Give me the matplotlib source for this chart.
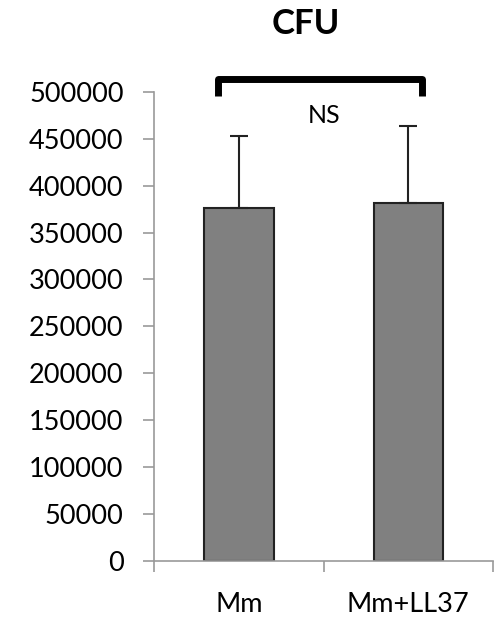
import matplotlib
matplotlib.use("Agg")
import matplotlib.pyplot as plt

# data
groups = ["Mm", "Mm+LL37"]
cfu = [376000, 382000]
err = [77000, 82000]
yticks = list(range(0, 500001, 50000))
sig_label = "NS"

plt.rcParams['font.family'] = ['Lato', 'DejaVu Sans']

fig = plt.figure(figsize=(4.99, 6.2), dpi=100)
ax = fig.add_axes([0.309, 0.095, 0.679, 0.757])

x = [0, 1]
ax.bar(x, cfu, width=0.41, color="#808080", edgecolor="#222222", linewidth=1.5, zorder=2)
ax.errorbar(x, cfu, yerr=[[0, 0], err], fmt="none", ecolor="#222222",
            elinewidth=1.5, capsize=6.5, capthick=1.5, zorder=3)

ax.set_xlim(-0.5, 1.5)
ax.set_ylim(0, 500000)
ax.set_yticks(yticks)
ax.set_yticklabels([str(v) for v in yticks], fontsize=19.5)
ax.set_xticks(x)
ax.set_xticklabels(groups, fontsize=19.5)
ax.set_xticks([-0.5, 0.5, 1.5], minor=True)
ax.tick_params(axis="x", which="major", length=0, pad=22)
ax.tick_params(axis="x", which="minor", length=8, color="#999999", width=1.2, direction="out")
ax.tick_params(axis="y", length=8, color="#999999", width=1.2, direction="out", pad=14)

for s in ["top", "right"]:
    ax.spines[s].set_visible(False)
ax.spines["left"].set_color("#999999")
ax.spines["bottom"].set_color("#999999")
ax.spines["left"].set_linewidth(1.2)
ax.spines["bottom"].set_linewidth(1.2)

# significance bracket
bx0, bx1 = -0.123, 1.079
ax.plot([bx0, bx0, bx1, bx1], [496000, 514000, 514000, 496000], color="black",
        lw=5, solid_joinstyle="round", solid_capstyle="butt", clip_on=False)
ax.text(0.5, 475000, sig_label, ha="center", va="center", fontsize=18)

fig.text(0.612, 0.962, "CFU", ha="center", va="center", fontsize=25, fontweight="bold")

fig.savefig("out.png", dpi=100)
